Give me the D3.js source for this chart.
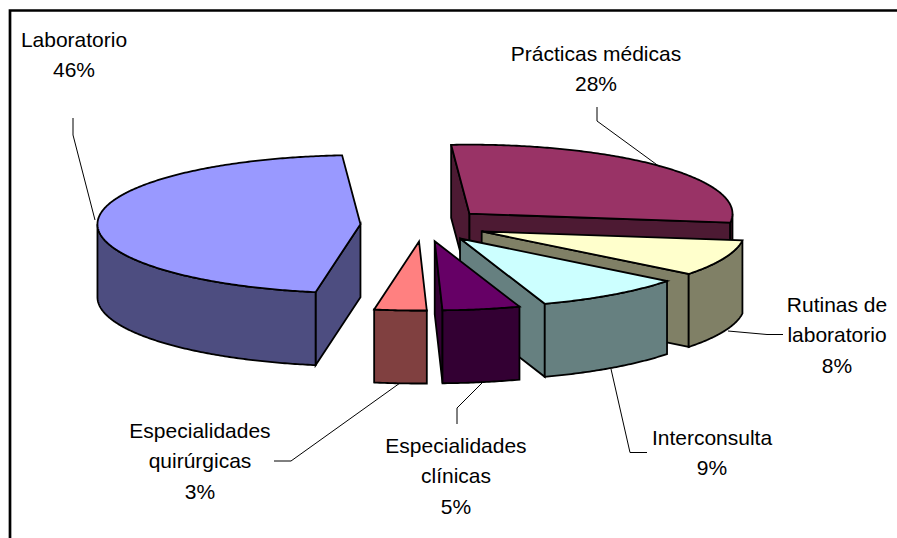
<!DOCTYPE html>
<html lang="es">
<head>
  <meta charset="UTF-8">
  <title>Pie 3D</title>
  <style>
    html, body { margin: 0; padding: 0; background: #fff; }
    svg { display: block; }
    text { font-family: "Liberation Sans", Arial, sans-serif; font-size: 21px; fill: #000; text-anchor: middle; }
  </style>
</head>
<body>
  <svg id="chart" width="897" height="538"></svg>
  <script src="https://d3js.org/d3.v7.min.js"></script>
  <script>
    const categories = ["Prácticas médicas", "Rutinas de laboratorio", "Interconsulta", "Especialidades clínicas", "Especialidades quirúrgicas", "Laboratorio"];
    const values = [28.2, 8.49, 9.2, 4.75, 3.2, 46.16];
    const percentLabels = ["28%", "8%", "9%", "5%", "3%", "46%"];
    const colors = ["#993366", "#FFFFCC", "#CCFFFF", "#660066", "#FF8080", "#9999FF"];

    // label lines per slice, last one is the percent
    const labelLines = [
      ["Prácticas médicas"],
      ["Rutinas de", "laboratorio"],
      ["Interconsulta"],
      ["Especialidades", "clínicas"],
      ["Especialidades", "quirúrgicas"],
      ["Laboratorio"]
    ];
    const labelPos = [[596, 61], [837, 312], [712, 445], [456, 453], [200, 438], [74, 47]];
    const leaders = [
      [[597, 107], [597, 121], [660, 167]],
      [[728, 331], [767, 334.5], [783, 334.5]],
      [[611, 369], [630, 452.5], [647, 452.5]],
      [[483, 382], [457, 408], [457, 424]],
      [[400, 383], [291, 461], [274, 461]],
      [[73, 118], [73, 135], [95, 220]]
    ];

    const cx = 423.5, cy = 225, rx = 263, ry = 69, depth = 73, explode = 0.24;
    const toRad = Math.PI / 180;

    const svg = d3.select("#chart");

    // frame
    svg.append("path")
      .attr("d", "M10,538V10.5H897")
      .attr("fill", "none")
      .attr("stroke", "#000")
      .attr("stroke-width", 2.7);

    const pie = d3.pie().sort(null).startAngle(-4 * toRad).endAngle(356 * toRad);
    const arcs = pie(values);

    const line = d3.line();
    const px = a => Math.sin(a) * rx;
    const py = a => -Math.cos(a) * ry;

    // back to front
    const drawOrder = [0, 5, 1, 2, 4, 3];

    drawOrder.forEach(i => {
      const d = arcs[i];
      const mid = (d.startAngle + d.endAngle) / 2;
      const ax = cx + px(mid) * explode;
      const ay = cy + py(mid) * explode;
      const side = d3.rgb(colors[i]);
      const sideColor = d3.rgb(side.r / 2, side.g / 2, side.b / 2).formatHex();
      const g = svg.append("g")
        .attr("stroke", "#000")
        .attr("stroke-width", 1.8)
        .attr("stroke-linejoin", "miter");

      const rimPoint = a => [ax + px(a), ay + py(a)];

      const face = a => {
        const p = rimPoint(a);
        g.append("path")
          .attr("d", line([[ax, ay], p, [p[0], p[1] + depth], [ax, ay + depth]]) + "Z")
          .attr("fill", sideColor);
      };
      if (Math.sin(d.startAngle) < 0) face(d.startAngle);
      if (Math.sin(d.endAngle) > 0) face(d.endAngle);

      // outer wall, only the part that faces the viewer
      const a0 = Math.max(d.startAngle, 90 * toRad);
      const a1 = Math.min(d.endAngle, 270 * toRad);
      if (a1 > a0) {
        const rim = d3.range(a0, a1, 0.01).concat([a1]).map(rimPoint);
        const lower = rim.map(p => [p[0], p[1] + depth]).reverse();
        g.append("path")
          .attr("d", line(rim.concat(lower)) + "Z")
          .attr("fill", sideColor);
      }

      const top = d3.range(d.startAngle, d.endAngle, 0.01).concat([d.endAngle]).map(rimPoint);
      g.append("path")
        .attr("d", line([[ax, ay]].concat(top)) + "Z")
        .attr("fill", colors[i]);
    });

    // leader lines
    leaders.forEach(pts => {
      svg.append("path")
        .attr("d", line(pts))
        .attr("fill", "none")
        .attr("stroke", "#000")
        .attr("stroke-width", 1);
    });

    // labels
    categories.forEach((c, i) => {
      const lines = labelLines[i].concat([percentLabels[i]]);
      const t = svg.append("text").attr("aria-label", c);
      lines.forEach((s, k) => {
        t.append("tspan")
          .attr("x", labelPos[i][0])
          .attr("y", labelPos[i][1] + k * 30.3)
          .text(s);
      });
    });
  </script>
</body>
</html>
